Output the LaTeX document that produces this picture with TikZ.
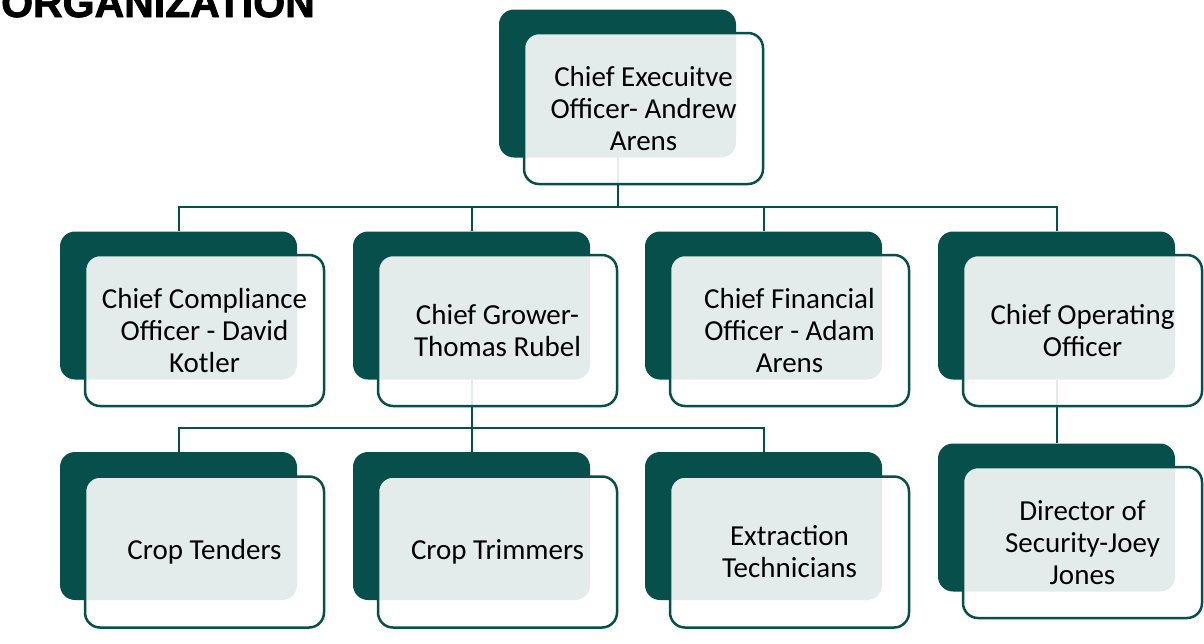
\documentclass[tikz,border=0pt]{standalone}
\usepackage{fontspec}
\setmainfont{Carlito}
\newfontfamily\titlefont[FakeBold=2]{Liberation Sans}
\usepackage{tikz}
\usetikzlibrary{positioning}
\usetikzlibrary{backgrounds}
\definecolor{pine}{HTML}{074F4A}

\begin{document}
\begin{tikzpicture}[x=1pt,y=-1pt,
		back/.style={fill=pine,rounded corners=15pt,minimum width=237pt,minimum height=148pt,inner sep=0pt},
		front/.style={draw=pine,line width=2.5pt,fill=white,fill opacity=0.89,text opacity=1,rounded corners=15pt,minimum width=239pt,minimum height=151pt,align=center,inner sep=0pt,font=\fontsize{29}{32}\selectfont},
		link/.style={draw=pine,line width=2pt}]
		\useasboundingbox (0,0) rectangle (1204,643);
		\node[anchor=base west,inner sep=0pt,font=\titlefont\bfseries\fontsize{41}{41}\selectfont] (title) at (1,17) {ORGANIZATION};
		% dark back plates
		\node[back] (ceo-b) at (617.5,83.5) {};
		\node[back] (cco-b) at (178.5,305.5) {};
		\node[back] (grow-b) at (471.5,305.5) {};
		\node[back] (cfo-b) at (763.5,305.5) {};
		\node[back] (coo-b) at (1056.5,305.5) {};
		\node[back] (tend-b) at (178.5,526) {};
		\node[back] (trim-b) at (471.5,526) {};
		\node[back] (extr-b) at (763.5,526) {};
		\node[back] (dir-b) at (1056.5,517.5) {};
		% light front cards
		\node[front] (ceo) at ([shift={(26,25)}]ceo-b.center) {Chief Execuitve\\Officer- Andrew\\Arens};
		\node[front] (cco) at ([shift={(26,25)}]cco-b.center) {Chief Compliance\\Officer - David\\Kotler};
		\node[front] (grow) at ([shift={(26,25)}]grow-b.center) {Chief Grower-\\Thomas Rubel};
		\node[front] (cfo) at ([shift={(26,25)}]cfo-b.center) {Chief Financial\\Officer - Adam\\Arens};
		\node[front] (coo) at ([shift={(26,25)}]coo-b.center) {Chief Operating\\Officer};
		\node[front] (tend) at ([shift={(26,26)}]tend-b.center) {Crop Tenders};
		\node[front] (trim) at ([shift={(26,26)}]trim-b.center) {Crop Trimmers};
		\node[front] (extr) at ([shift={(26,26)}]extr-b.center) {Extraction\\Technicians};
		\node[front] (dir) at ([shift={(26,25)}]dir-b.center) {Director of\\Security-Joey\\Jones};
		% lines
		\begin{scope}[on background layer]
		\draw[link] (ceo-b.south) -- ++(0,49) -| (cco-b.north);
		\draw[link] (ceo-b.south) -- ++(0,49) -| (grow-b.north);
		\draw[link] (ceo-b.south) -- ++(0,49) -| (cfo-b.north);
		\draw[link] (ceo-b.south) -- ++(0,49) -| (coo-b.north);
		\draw[link] (grow-b.south) -- ++(0,48.5) -| (tend-b.north);
		\draw[link] (grow-b.south) -- ++(0,48.5) -| (trim-b.north);
		\draw[link] (grow-b.south) -- ++(0,48.5) -| (extr-b.north);
		\draw[link] (coo-b.south) -- (dir-b.north);
		\end{scope}
\end{tikzpicture}
\end{document}
